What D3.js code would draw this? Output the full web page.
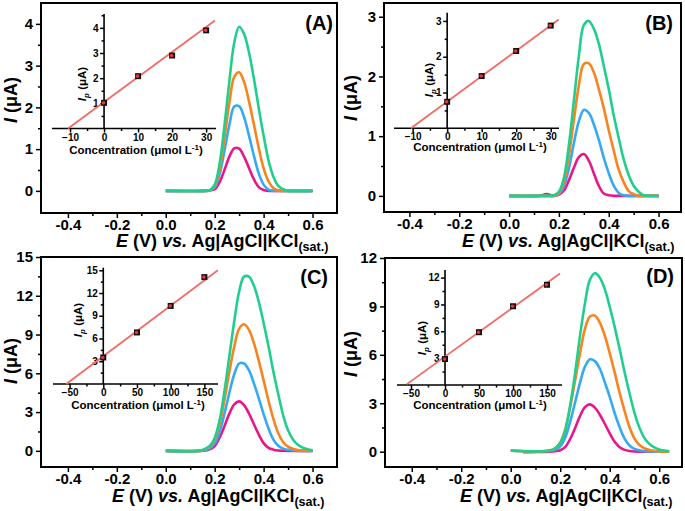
<!DOCTYPE html>
<html>
<head>
<meta charset="utf-8">
<script src="https://cdn.jsdelivr.net/npm/d3@7"></script>
<style>
  body { margin: 0; background: #fff; }
  svg { display: block; }
</style>
</head>
<body>
<svg id="chart" width="685" height="511"></svg>
<script>
// ---- voltammograms (E in V, I in uA) ----
const potA = [0.00, 0.16, 0.18, 0.20, 0.22, 0.24, 0.26, 0.28, 0.30, 0.32, 0.34, 0.36, 0.38, 0.40, 0.42, 0.44, 0.46, 0.48, 0.50, 0.60];
const pinkA   = [0, 0, 0.01, 0.04, 0.21, 0.50, 0.82, 1.02, 1.01, 0.82, 0.55, 0.28, 0.09, 0.02, 0, 0, 0, 0, 0, 0];
const blueA   = [0, 0, 0.01, 0.08, 0.40, 0.96, 1.58, 2.02, 2.03, 1.77, 1.33, 0.85, 0.42, 0.15, 0.03, 0, 0, 0, 0, 0];
const orangeA = [0, 0, 0.01, 0.11, 0.52, 1.26, 2.11, 2.73, 2.84, 2.61, 2.15, 1.60, 1.03, 0.54, 0.23, 0.07, 0.01, 0, 0, 0];
const greenA  = [0, 0, 0.02, 0.15, 0.65, 1.56, 2.63, 3.55, 3.93, 3.76, 3.32, 2.70, 1.99, 1.32, 0.73, 0.34, 0.12, 0.04, 0, 0];

const potB = [0.00, 0.12, 0.15, 0.18, 0.20, 0.22, 0.24, 0.26, 0.28, 0.30, 0.32, 0.34, 0.36, 0.38, 0.40, 0.42, 0.44, 0.46, 0.48, 0.50, 0.52, 0.54, 0.56, 0.60];
const pinkB   = [0, 0, 0.03, 0, 0.02, 0.09, 0.26, 0.47, 0.65, 0.70, 0.59, 0.38, 0.17, 0.04, 0.01, 0, 0, 0, 0, 0, 0, 0, 0, 0];
const blueB   = [0, 0, 0, 0, 0.03, 0.16, 0.46, 0.88, 1.25, 1.44, 1.39, 1.20, 0.94, 0.64, 0.38, 0.17, 0.05, 0.01, 0, 0, 0, 0, 0, 0];
const orangeB = [0, 0, 0, 0, 0.05, 0.23, 0.67, 1.27, 1.85, 2.21, 2.22, 2.07, 1.79, 1.47, 1.10, 0.76, 0.44, 0.23, 0.08, 0.03, 0, 0, 0, 0];
const greenB  = [0, 0, 0, 0.01, 0.07, 0.30, 0.85, 1.59, 2.34, 2.86, 2.93, 2.80, 2.55, 2.18, 1.79, 1.35, 0.97, 0.61, 0.35, 0.17, 0.07, 0.01, 0, 0];

const potC = [0.00, 0.14, 0.16, 0.18, 0.20, 0.22, 0.24, 0.26, 0.28, 0.30, 0.32, 0.34, 0.36, 0.38, 0.40, 0.42, 0.44, 0.46, 0.48, 0.50, 0.52, 0.54, 0.56, 0.58, 0.60];
const pinkC   = [0, 0, 0.03, 0.12, 0.37, 1.03, 1.91, 2.88, 3.60, 3.83, 3.54, 2.89, 2.08, 1.27, 0.60, 0.23, 0.09, 0.03, 0.01, 0, 0, 0, 0, 0, 0];
const blueC   = [0, 0, 0.06, 0.19, 0.56, 1.45, 2.88, 4.50, 5.93, 6.76, 6.76, 6.24, 5.24, 4.08, 2.84, 1.73, 0.87, 0.39, 0.17, 0.08, 0.03, 0, 0, 0, 0];
const orangeC = [0, 0, 0.11, 0.32, 0.85, 2.05, 3.94, 6.11, 8.05, 9.46, 9.80, 9.36, 8.36, 6.98, 5.45, 3.88, 2.47, 1.36, 0.67, 0.33, 0.16, 0.06, 0.02, 0, 0];
const greenC  = [0, 0, 0.15, 0.38, 1.00, 2.36, 4.63, 7.33, 10.03, 12.33, 13.48, 13.48, 12.80, 11.55, 9.90, 8.10, 6.12, 4.38, 2.75, 1.59, 0.88, 0.47, 0.25, 0.12, 0.05];

const potD = [0.00, 0.05, 0.10, 0.16, 0.18, 0.20, 0.22, 0.24, 0.26, 0.28, 0.30, 0.32, 0.34, 0.36, 0.38, 0.40, 0.42, 0.44, 0.46, 0.48, 0.50, 0.52, 0.54, 0.56, 0.58, 0.60, 0.62, 0.64];
const pinkD   = [null, -0.04, -0.02, 0, 0.03, 0.09, 0.28, 0.78, 1.46, 2.21, 2.76, 2.93, 2.73, 2.29, 1.73, 1.14, 0.61, 0.27, 0.11, 0.04, 0.01, 0, 0, 0, 0, 0, 0, 0];
const blueD   = [0.06, 0.03, 0.01, 0.04, 0.12, 0.33, 0.87, 1.85, 3.05, 4.28, 5.27, 5.72, 5.61, 5.14, 4.30, 3.40, 2.38, 1.52, 0.81, 0.38, 0.17, 0.08, 0.03, 0.01, 0, 0, 0, 0];
const orangeD = [0.06, 0.03, 0.01, 0.08, 0.21, 0.57, 1.37, 2.74, 4.39, 6.10, 7.61, 8.38, 8.43, 7.99, 7.19, 6.10, 4.91, 3.64, 2.52, 1.51, 0.81, 0.41, 0.21, 0.11, 0.05, 0.02, 0, 0];
const greenD  = [0.08, 0.04, 0.02, 0.07, 0.21, 0.54, 1.31, 2.87, 4.87, 7.19, 9.20, 10.66, 11.06, 10.78, 10.07, 8.98, 7.73, 6.37, 4.92, 3.62, 2.41, 1.49, 0.85, 0.48, 0.26, 0.14, 0.07, 0.02];

// ---- calibration insets ----
const concAB = [0, 10, 20, 30];
const concCD = [0, 50, 100, 150];
const ipA = [1.02, 2.08, 2.90, 3.90];
const ipB = [0.74, 1.46, 2.16, 2.87];
const ipC = [3.5, 6.8, 10.3, 14.1];
const ipD = [2.9, 5.9, 8.8, 11.2];
const fitXA = [-10.6, 32.6], fitYA = [0, 4.29];
const fitXB = [-10.5, 32.3], fitYB = [0, 3.04];
const fitXC = [-55, 170],    fitYC = [0, 15.0];
const fitXD = [-56, 169],    fitYD = [0.1, 12.45];

// ---- ticks ----
const xTicksMain = [-0.4, -0.2, 0.0, 0.2, 0.4, 0.6];
const xMinorMain = [-0.3, -0.1, 0.1, 0.3, 0.5];
const yTicksA = [0, 1, 2, 3, 4],      yMinorA = [0.5, 1.5, 2.5, 3.5];
const yTicksB = [0, 1, 2, 3],         yMinorB = [0.5, 1.5, 2.5];
const yTicksC = [0, 3, 6, 9, 12, 15], yMinorC = [1.5, 4.5, 7.5, 10.5, 13.5];
const yTicksD = [0, 3, 6, 9, 12],     yMinorD = [1.5, 4.5, 7.5, 10.5];
const inXTicksAB = [-10, 0, 10, 20, 30],    inXMinorAB = [-5, 5, 15, 25];
const inXTicksCD = [-50, 0, 50, 100, 150],  inXMinorCD = [-25, 25, 75, 125];
const inYTicksA = [1, 2, 3, 4],   inYMinorA = [0.5, 1.5, 2.5, 3.5, 4.5];
const inYTicksB = [1, 2, 3],      inYMinorB = [0.5, 1.5, 2.5];
const inYTicksC = [3, 6, 9, 12, 15], inYMinorC = [1.5, 4.5, 7.5, 10.5, 13.5];
const inYTicksD = [3, 6, 9, 12],  inYMinorD = [1.5, 4.5, 7.5, 10.5];

const curveColors = ['#e9168b', '#35aaf3', '#f7841f', '#20cf8e'];
const FONT = '"Liberation Sans", Arial, Helvetica, sans-serif';

const svg = d3.select('#chart');

function styleAxis(g, size) {
  g.attr('font-family', FONT).attr('font-size', size).attr('font-weight', 'bold');
  g.select('.domain').remove();
  g.selectAll('line').attr('stroke', '#000').attr('stroke-width', 1.5);
}

function drawPanel(p) {
  const g = svg.append('g');
  const [l, t, r, b] = p.box;
  const x = d3.scaleLinear().domain(p.xDom).range([l, r]);
  const y = d3.scaleLinear().domain(p.yDom).range([b, t]);

  // main axes
  g.append('g').attr('transform', `translate(0,${b})`)
    .call(d3.axisBottom(x).tickValues(xMinorMain).tickSize(3).tickFormat(''))
    .call(styleAxis, 15);
  g.append('g').attr('transform', `translate(0,${b})`)
    .call(d3.axisBottom(x).tickValues(xTicksMain).tickSize(5).tickPadding(1).tickFormat(d => d.toFixed(1)))
    .call(styleAxis, 15);
  g.append('g').attr('transform', `translate(${l},0)`)
    .call(d3.axisLeft(y).tickValues(p.yMinor).tickSize(3).tickFormat(''))
    .call(styleAxis, 15);
  g.append('g').attr('transform', `translate(${l},0)`)
    .call(d3.axisLeft(y).tickValues(p.yTicks).tickSize(5).tickPadding(3).tickFormat(d3.format('d')))
    .call(styleAxis, 15);

  g.append('rect').attr('x', l).attr('y', t).attr('width', r - l).attr('height', b - t)
    .attr('fill', 'none').attr('stroke', '#000').attr('stroke-width', 2);

  // voltammograms
  const line = d3.line()
    .defined(d => d[1] != null)
    .x(d => x(d[0])).y(d => y(d[1]))
    .curve(d3.curveCatmullRom);
  p.curves.forEach((c, i) => {
    g.append('path')
      .datum(p.pot.map((v, j) => [v, c[j]]))
      .attr('d', line)
      .attr('fill', 'none')
      .attr('stroke', curveColors[i])
      .attr('stroke-width', 2.6)
      .attr('stroke-linejoin', 'round');
  });

  // inset
  const ins = p.inset;
  const ix = d3.scaleLinear().domain(ins.xDom).range([ins.box[0], ins.box[2]]);
  const iy = d3.scaleLinear().domain(ins.yDom).range([ins.box[3], ins.box[1]]);
  const ig = g.append('g');

  ig.append('g').attr('transform', `translate(0,${iy(0)})`)
    .call(d3.axisBottom(ix).tickValues(ins.xMinor).tickSize(2.5).tickFormat(''))
    .call(styleAxis, 10);
  ig.append('g').attr('transform', `translate(0,${iy(0)})`)
    .call(d3.axisBottom(ix).tickValues(ins.xTicks).tickSize(4).tickPadding(1).tickFormat(d3.format('d')))
    .call(styleAxis, 10);
  ig.append('g').attr('transform', `translate(${ix(0)},0)`)
    .call(d3.axisLeft(iy).tickValues(ins.yMinor).tickSize(2.5).tickFormat(''))
    .call(styleAxis, 10);
  ig.append('g').attr('transform', `translate(${ix(0)},0)`)
    .call(d3.axisLeft(iy).tickValues(ins.yTicks).tickSize(4).tickPadding(1.5).tickFormat(d3.format('d')))
    .call(styleAxis, 10);

  ig.append('line')
    .attr('x1', ins.box[0]).attr('x2', ins.box[2])
    .attr('y1', iy(0)).attr('y2', iy(0))
    .attr('stroke', '#000').attr('stroke-width', 1.6);
  ig.append('line')
    .attr('x1', ix(0)).attr('x2', ix(0))
    .attr('y1', iy(0)).attr('y2', ins.box[1])
    .attr('stroke', '#000').attr('stroke-width', 1.6);

  ig.append('path')
    .datum(ins.fitX.map((v, j) => [v, ins.fitY[j]]))
    .attr('d', d3.line().x(d => ix(d[0])).y(d => iy(d[1])))
    .attr('stroke', '#f26b66').attr('stroke-width', 1.8).attr('fill', 'none');

  const pts = ins.conc.map((v, j) => [v, ins.ip[j]]);
  ig.selectAll('rect.pt').data(pts).enter().append('rect')
    .attr('class', 'pt')
    .attr('x', d => ix(d[0]) - 3).attr('y', d => iy(d[1]) - 3)
    .attr('width', 6).attr('height', 6).attr('fill', '#111');
  ig.selectAll('circle.pt').data(pts).enter().append('circle')
    .attr('class', 'pt')
    .attr('cx', d => ix(d[0]) - 0.5).attr('cy', d => iy(d[1]))
    .attr('r', 1.8).attr('fill', '#e8343a');

  // inset titles
  const ct = ig.append('text')
    .attr('x', ins.xTitle[0]).attr('y', ins.xTitle[1])
    .attr('text-anchor', 'middle')
    .attr('font-family', FONT).attr('font-size', 11.5).attr('font-weight', 'bold');
  ct.append('tspan').text('Concentration (\u03bcmol L');
  ct.append('tspan').attr('dy', -4.5).attr('font-size', 8).text('-1');
  ct.append('tspan').attr('dy', 4.5).text(')');

  const yt = ig.append('text')
    .attr('transform', `translate(${ins.yTitle[0]},${ins.yTitle[1]}) rotate(-90)`)
    .attr('text-anchor', 'middle')
    .attr('font-family', FONT).attr('font-size', 11.5).attr('font-weight', 'bold');
  yt.append('tspan').attr('font-style', 'italic').text('I');
  yt.append('tspan').attr('font-style', 'italic').attr('font-size', 8).attr('dy', 3).text('p');
  yt.append('tspan').attr('dy', -3).text(' (\u03bcA)');

  // main titles
  const xt = g.append('text')
    .attr('x', p.xTitle[0]).attr('y', p.xTitle[1])
    .attr('font-family', FONT).attr('font-size', 18).attr('font-weight', 'bold');
  xt.append('tspan').attr('font-style', 'italic').text('E');
  xt.append('tspan').text(' (V) ');
  xt.append('tspan').attr('font-style', 'italic').text('vs.');
  xt.append('tspan').text(' Ag|AgCl|KCl');
  xt.append('tspan').attr('font-size', 12.5).attr('dy', 4).text('(sat.)');

  const mt = g.append('text')
    .attr('transform', `translate(${p.yTitle[0]},${p.yTitle[1]}) rotate(-90)`)
    .attr('text-anchor', 'middle')
    .attr('font-family', FONT).attr('font-size', 18).attr('font-weight', 'bold');
  mt.append('tspan').attr('font-style', 'italic').text('I');
  mt.append('tspan').text(' (\u03bcA)');

  g.append('text')
    .attr('x', p.tag[0]).attr('y', p.tag[1])
    .attr('text-anchor', 'end')
    .attr('font-family', FONT).attr('font-size', 20).attr('font-weight', 'bold')
    .text(p.label);
}

const panels = [
  {
    label: '(A)', tag: [333, 30],
    box: [41, 3, 337, 213], xDom: [-0.51, 0.70], yDom: [-0.53, 4.5],
    yTicks: yTicksA, yMinor: yMinorA,
    pot: potA, curves: [pinkA, blueA, orangeA, greenA],
    xTitle: [116, 247], yTitle: [17, 100],
    inset: {
      box: [52, 14, 216, 128.5], xDom: [-15.3, 32.9], yDom: [0, 4.55],
      xTicks: inXTicksAB, xMinor: inXMinorAB, yTicks: inYTicksA, yMinor: inYMinorA,
      conc: concAB, ip: ipA, fitX: fitXA, fitY: fitYA,
      xTitle: [136, 154], yTitle: [86, 84]
    }
  },
  {
    label: '(B)', tag: [673, 30],
    box: [384, 3, 681, 212], xDom: [-0.502, 0.69], yDom: [-0.27, 3.23],
    yTicks: yTicksB, yMinor: yMinorB,
    pot: potB, curves: [pinkB, blueB, orangeB, greenB],
    xTitle: [462, 247], yTitle: [357, 98],
    inset: {
      box: [394, 12.7, 559, 128.3], xDom: [-15.4, 32.4], yDom: [0, 3.23],
      xTicks: inXTicksAB, xMinor: inXMinorAB, yTicks: inYTicksB, yMinor: inYMinorB,
      conc: concAB, ip: ipB, fitX: fitXB, fitY: fitYB,
      xTitle: [480, 151], yTitle: [433, 80]
    }
  },
  {
    label: '(C)', tag: [328, 284],
    box: [41, 257, 337, 467], xDom: [-0.51, 0.70], yDom: [-1.25, 15],
    yTicks: yTicksC, yMinor: yMinorC,
    pot: potC, curves: [pinkC, blueC, orangeC, greenC],
    xTitle: [112, 502], yTitle: [17, 361],
    inset: {
      box: [53, 267.7, 218, 384], xDom: [-74.6, 170.2], yDom: [0, 15.34],
      xTicks: inXTicksCD, xMinor: inXMinorCD, yTicks: inYTicksC, yMinor: inYMinorC,
      conc: concCD, ip: ipC, fitX: fitXC, fitY: fitYC,
      xTitle: [138, 409], yTitle: [82, 320]
    }
  },
  {
    label: '(D)', tag: [674, 283],
    box: [385, 258, 682, 467], xDom: [-0.508, 0.692], yDom: [-0.95, 12],
    yTicks: yTicksD, yMinor: yMinorD,
    pot: potD, curves: [pinkD, blueD, orangeD, greenD],
    xTitle: [460, 502], yTitle: [357, 354],
    inset: {
      box: [397, 270, 562, 385], xDom: [-70.6, 172], yDom: [0, 12.85],
      xTicks: inXTicksCD, xMinor: inXMinorCD, yTicks: inYTicksD, yMinor: inYMinorD,
      conc: concCD, ip: ipD, fitX: fitXD, fitY: fitYD,
      xTitle: [480, 409], yTitle: [426, 338]
    }
  }
];

panels.forEach(drawPanel);
</script>
</body>
</html>
